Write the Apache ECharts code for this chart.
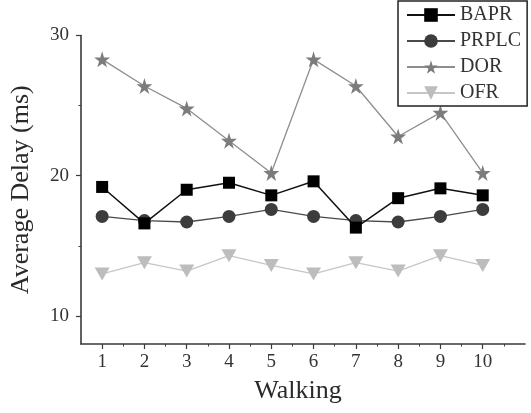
<!DOCTYPE html>
<html>
<head>
<meta charset="utf-8">
<script src="https://cdn.jsdelivr.net/npm/echarts@6/dist/echarts.min.js"></script>
<style>
  html, body { margin: 0; padding: 0; background: #fff; }
  #chart { width: 531px; height: 413px; }
</style>
</head>
<body>
<div id="chart"></div>
<script>
// values
const walking = [1, 2, 3, 4, 5, 6, 7, 8, 9, 10]
const bapr = [19.2, 16.6, 19.0, 19.5, 18.6, 19.6, 16.3, 18.4, 19.1, 18.6]
const prplc = [17.1, 16.8, 16.7, 17.1, 17.6, 17.1, 16.8, 16.7, 17.1, 17.6]
const dor = [28.3, 26.4, 24.8, 22.5, 20.2, 28.3, 26.4, 22.8, 24.5, 20.2]
const ofr = [13.0, 13.8, 13.2, 14.3, 13.6, 13.0, 13.8, 13.2, 14.3, 13.6]

const yTicks = [10, 20, 30]
const yMinorTicks = [15, 25]
const xMinorTicks = [1.5, 2.5, 3.5, 4.5, 5.5, 6.5, 7.5, 8.5, 9.5, 10.5]

const FONT = "'Liberation Serif', 'Times New Roman', serif"
const STAR = 'path://M50,0 L61,35 L98,35 L68,57 L79,91 L50,70 L21,91 L32,57 L2,35 L39,35 Z'

const pairs = (vals) => vals.map((v, i) => [walking[i], v])

const chart = echarts.init(document.getElementById('chart'), null, { renderer: 'canvas' })

const axisLine = { show: true, lineStyle: { color: '#3a3a3a', width: 1.6 } }

chart.setOption({
  animation: false,
  backgroundColor: '#fff',
  grid: { left: 77, right: 6, top: 35.5, bottom: 69 },
  legend: {
    orient: 'vertical',
    left: 398,
    top: 1,
    padding: [3, 6, 2, 8],
    itemWidth: 48,
    itemHeight: 17,
    itemGap: 4,
    borderColor: '#222',
    borderWidth: 1.5,
    backgroundColor: '#fff',
    textStyle: { fontFamily: FONT, fontSize: 20, color: '#333', lineHeight: 22 },
    data: ['BAPR', 'PRPLC', 'DOR', 'OFR']
  },
  xAxis: [
    {
      type: 'value',
      min: 0.5,
      max: 11,
      name: 'Walking',
      nameLocation: 'middle',
      nameGap: 34,
      nameTextStyle: { fontFamily: FONT, fontSize: 26, color: '#2a2a2a', padding: [0, 10, 0, 0] },
      axisLine: axisLine,
      axisTick: { show: true, customValues: walking, length: 5, lineStyle: { color: '#3a3a3a', width: 1.2 } },
      axisLabel: { customValues: walking, margin: 9, fontFamily: FONT, fontSize: 19, color: '#333' },
      splitLine: { show: false }
    },
    {
      type: 'value',
      min: 0.5,
      max: 11,
      position: 'bottom',
      axisLine: { show: false },
      axisTick: { show: true, customValues: xMinorTicks, length: 2.5, lineStyle: { color: '#3a3a3a', width: 1 } },
      axisLabel: { show: false },
      splitLine: { show: false }
    }
  ],
  yAxis: [
    {
      type: 'value',
      min: 8,
      max: 30,
      name: 'Average Delay (ms)',
      nameLocation: 'middle',
      nameGap: 47,
      nameTextStyle: { fontFamily: FONT, fontSize: 26, color: '#2a2a2a' },
      axisLine: axisLine,
      axisTick: { show: true, customValues: yTicks, length: 5, lineStyle: { color: '#3a3a3a', width: 1.2 } },
      axisLabel: { customValues: yTicks, margin: 12, fontFamily: FONT, fontSize: 19, color: '#333' },
      splitLine: { show: false }
    },
    {
      type: 'value',
      min: 8,
      max: 30,
      position: 'left',
      axisLine: { show: false },
      axisTick: { show: true, customValues: yMinorTicks, length: 2.5, lineStyle: { color: '#3a3a3a', width: 1 } },
      axisLabel: { show: false },
      splitLine: { show: false }
    }
  ],
  series: [
    {
      name: 'BAPR',
      type: 'line',
      data: pairs(bapr),
      symbol: 'rect',
      symbolSize: 12,
      itemStyle: { color: '#000' },
      lineStyle: { color: '#111', width: 1.5 },
      z: 5
    },
    {
      name: 'PRPLC',
      type: 'line',
      data: pairs(prplc),
      symbol: 'circle',
      symbolSize: 13,
      itemStyle: { color: '#3c3c3c' },
      lineStyle: { color: '#4a4a4a', width: 1.3 },
      z: 4
    },
    {
      name: 'DOR',
      type: 'line',
      data: pairs(dor),
      symbol: STAR,
      symbolSize: 16,
      itemStyle: { color: '#7c7c7c' },
      lineStyle: { color: '#8e8e8e', width: 1.3 },
      z: 3
    },
    {
      name: 'OFR',
      type: 'line',
      data: pairs(ofr),
      symbol: 'triangle',
      symbolRotate: 180,
      symbolSize: [15, 13],
      itemStyle: { color: '#bdbdbd' },
      lineStyle: { color: '#c6c6c6', width: 1.3 },
      z: 2
    }
  ]
})
</script>
</body>
</html>
